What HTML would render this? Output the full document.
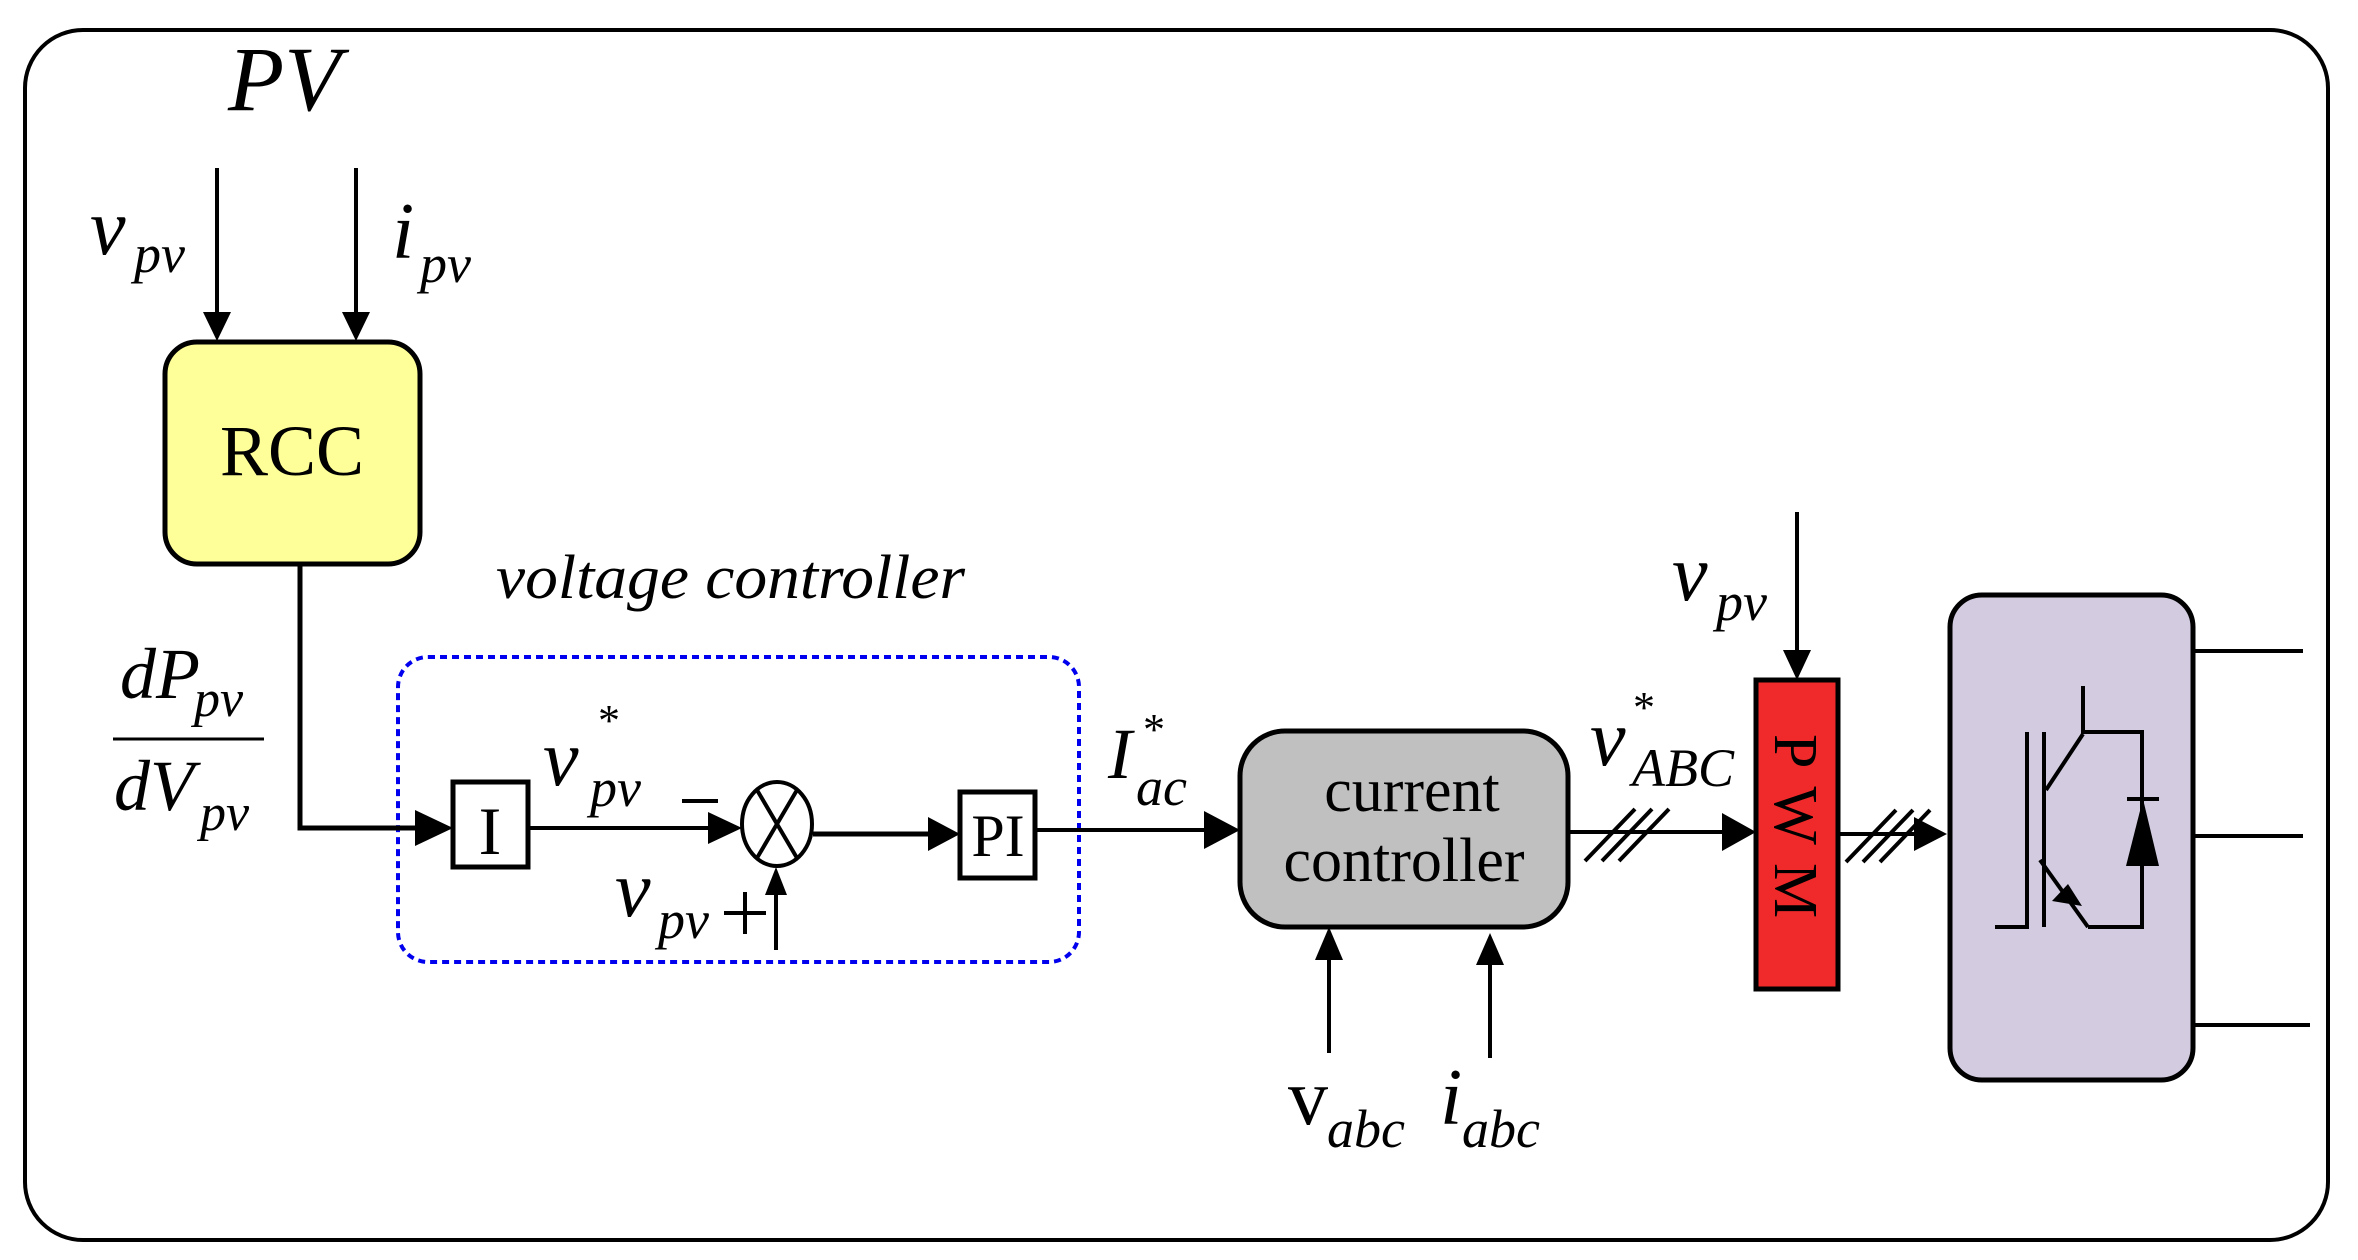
<!DOCTYPE html>
<html><head><meta charset="utf-8"><style>
html,body{margin:0;padding:0;background:#fff;}
svg{display:block;}
text{font-family:"Liberation Serif",serif;fill:#000;}
.i{font-style:italic;}
</style></head><body>
<svg width="2358" height="1260" viewBox="0 0 2358 1260" xmlns="http://www.w3.org/2000/svg">
<defs>
<marker id="ah" viewBox="0 0 10 10" refX="10" refY="5" markerWidth="10" markerHeight="10" markerUnits="userSpaceOnUse" orient="auto">
</marker>
</defs>
<!-- outer border -->
<rect x="25" y="30" width="2303" height="1210" rx="58" ry="58" fill="none" stroke="#000" stroke-width="4"/>

<!-- PV -->
<text class="i" x="228" y="110" font-size="92">PV</text>
<!-- vpv / ipv arrows -->
<line x1="217" y1="168" x2="217" y2="318" stroke="#000" stroke-width="4"/>
<polygon points="203,312 231,312 217,341" fill="#000"/>
<line x1="356" y1="168" x2="356" y2="318" stroke="#000" stroke-width="4"/>
<polygon points="342,312 370,312 356,341" fill="#000"/>
<text class="i" x="90" y="254" font-size="80">v</text>
<text class="i" x="134" y="272" font-size="54">pv</text>
<text class="i" x="392" y="258" font-size="80">i</text>
<text class="i" x="420" y="282" font-size="54">pv</text>

<!-- RCC -->
<rect x="165" y="342" width="255" height="222" rx="32" fill="#ffff99" stroke="#000" stroke-width="5"/>
<text x="292" y="475" font-size="72" text-anchor="middle">RCC</text>

<!-- dP/dV -->
<text class="i" x="120" y="698" font-size="72">dP</text>
<text class="i" x="194" y="716" font-size="52">pv</text>
<line x1="113" y1="739" x2="264" y2="739" stroke="#000" stroke-width="3"/>
<text class="i" x="114" y="810" font-size="72">dV</text>
<text class="i" x="200" y="830" font-size="52">pv</text>

<!-- voltage controller -->
<text class="i" x="496" y="598" font-size="62" textLength="469" lengthAdjust="spacingAndGlyphs">voltage controller</text>
<rect x="398" y="657" width="681" height="305" rx="30" fill="none" stroke="#0000ee" stroke-width="4" stroke-dasharray="7,5"/>

<!-- RCC line to I -->
<polyline points="300,564 300,828 420,828" fill="none" stroke="#000" stroke-width="5"/>
<polygon points="415,810 453,828 415,846" fill="#000"/>
<rect x="453" y="782" width="75" height="85" fill="#fff" stroke="#000" stroke-width="5"/>
<text x="490" y="854" font-size="68" text-anchor="middle">I</text>

<!-- I to sum -->
<line x1="528" y1="828" x2="715" y2="828" stroke="#000" stroke-width="4"/>
<polygon points="708,812 742,828 708,844" fill="#000"/>
<ellipse cx="777" cy="824" rx="35" ry="42" fill="#fff" stroke="#000" stroke-width="4"/>
<line x1="757" y1="790" x2="797" y2="858" stroke="#000" stroke-width="4"/>
<line x1="797" y1="790" x2="757" y2="858" stroke="#000" stroke-width="4"/>
<text class="i" x="543" y="785" font-size="80">v</text>
<text x="598" y="735" font-size="44">*</text>
<text class="i" x="590" y="806" font-size="54">pv</text>
<line x1="682" y1="801" x2="718" y2="801" stroke="#000" stroke-width="4"/>
<text class="i" x="615" y="916" font-size="80">v</text>
<text class="i" x="658" y="938" font-size="54">pv</text>
<line x1="724" y1="913" x2="766" y2="913" stroke="#000" stroke-width="4"/>
<line x1="745" y1="892" x2="745" y2="934" stroke="#000" stroke-width="4"/>
<line x1="776" y1="950" x2="776" y2="890" stroke="#000" stroke-width="4"/>
<polygon points="765,895 776,867 787,895" fill="#000"/>

<!-- sum to PI -->
<line x1="813" y1="834" x2="935" y2="834" stroke="#000" stroke-width="5"/>
<polygon points="928,817 960,834 928,851" fill="#000"/>
<rect x="960" y="792" width="75" height="86" fill="#fff" stroke="#000" stroke-width="5"/>
<text x="998" y="856" font-size="60" text-anchor="middle">PI</text>

<!-- PI to current controller -->
<line x1="1035" y1="830" x2="1212" y2="830" stroke="#000" stroke-width="4"/>
<polygon points="1204,811 1240,830 1204,849" fill="#000"/>
<text class="i" x="1108" y="778" font-size="72">I</text>
<text x="1143" y="744" font-size="44">*</text>
<text class="i" x="1136" y="805" font-size="54">ac</text>

<!-- current controller -->
<rect x="1240" y="731" width="328" height="196" rx="45" fill="#c0c0c0" stroke="#000" stroke-width="5"/>
<text x="1412" y="811" font-size="62" text-anchor="middle">current</text>
<text x="1404" y="881" font-size="62" text-anchor="middle">controller</text>
<line x1="1329" y1="1053" x2="1329" y2="955" stroke="#000" stroke-width="4"/>
<polygon points="1315,960 1329,927 1343,960" fill="#000"/>
<line x1="1490" y1="1058" x2="1490" y2="960" stroke="#000" stroke-width="4"/>
<polygon points="1476,965 1490,933 1504,965" fill="#000"/>
<text x="1288" y="1124" font-size="80">v</text>
<text class="i" x="1327" y="1147" font-size="54">abc</text>
<text class="i" x="1440" y="1124" font-size="80">i</text>
<text class="i" x="1462" y="1147" font-size="54">abc</text>

<!-- cc to PWM -->
<line x1="1568" y1="832" x2="1730" y2="832" stroke="#000" stroke-width="4"/>
<polygon points="1722,813 1756,832 1722,851" fill="#000"/>
<g stroke="#000" stroke-width="4">
<line x1="1585" y1="861" x2="1635" y2="809"/>
<line x1="1602" y1="861" x2="1652" y2="809"/>
<line x1="1619" y1="861" x2="1669" y2="809"/>
</g>
<text class="i" x="1590" y="765" font-size="80">v</text>
<text x="1633" y="722" font-size="44">*</text>
<text class="i" x="1632" y="786" font-size="54">ABC</text>

<!-- PWM -->
<rect x="1756" y="680" width="82" height="309" fill="#f02a2a" stroke="#000" stroke-width="5"/>
<text x="0" y="0" font-size="62" transform="translate(1775,835) rotate(90)" text-anchor="middle" letter-spacing="18">PWM</text>
<line x1="1797" y1="512" x2="1797" y2="655" stroke="#000" stroke-width="4"/>
<polygon points="1783,650 1811,650 1797,680" fill="#000"/>
<text class="i" x="1672" y="600" font-size="80">v</text>
<text class="i" x="1716" y="620" font-size="54">pv</text>

<!-- PWM to inverter -->
<line x1="1838" y1="834" x2="1920" y2="834" stroke="#000" stroke-width="4"/>
<polygon points="1914,817 1947,834 1914,851" fill="#000"/>
<g stroke="#000" stroke-width="4">
<line x1="1846" y1="862" x2="1896" y2="810"/>
<line x1="1863" y1="862" x2="1913" y2="810"/>
<line x1="1880" y1="862" x2="1930" y2="810"/>
</g>

<!-- inverter -->
<rect x="1950" y="595" width="243" height="485" rx="32" fill="#d3cbe0" stroke="#000" stroke-width="5"/>
<g stroke="#000" stroke-width="4" fill="none">
<line x1="2193" y1="651" x2="2303" y2="651"/>
<line x1="2193" y1="836" x2="2303" y2="836"/>
<line x1="2193" y1="1025" x2="2310" y2="1025"/>
<line x1="2083" y1="686" x2="2083" y2="734"/>
<polyline points="2083,732 2142,732 2142,927 2088,927"/>
<line x1="2083" y1="734" x2="2046" y2="790"/>
<line x1="2044" y1="732" x2="2044" y2="927"/>
<polyline points="1995,927 2027,927 2027,732"/>
<line x1="2040" y1="860" x2="2088" y2="927"/>
<line x1="2127" y1="799" x2="2159" y2="799"/>
</g>
<polygon points="2143,799 2126,866 2159,866" fill="#000"/>
<polygon points="2082,906 2052,901 2068,884" fill="#000"/>
</svg>
</body></html>
